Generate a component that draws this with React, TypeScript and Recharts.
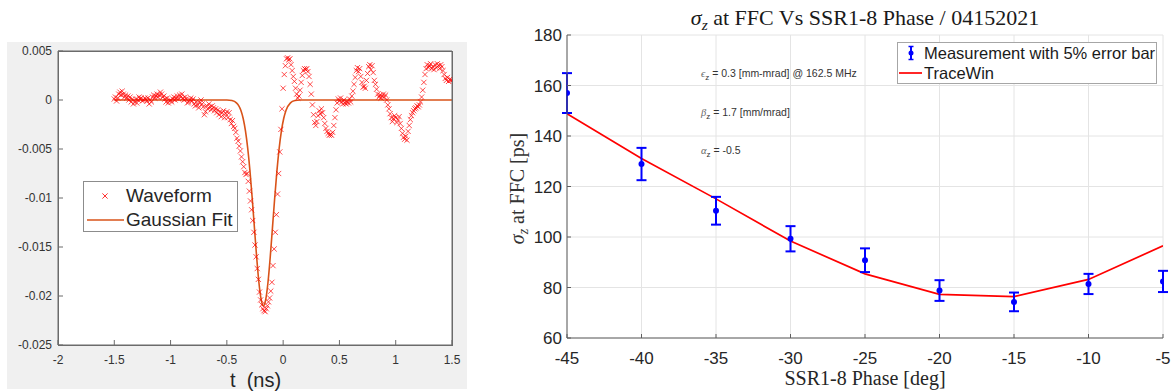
import React from 'react';
import { ComposedChart, Line, Scatter, XAxis, YAxis, CartesianGrid, ErrorBar } from 'recharts';

const sans = '"Liberation Sans", Arial, Helvetica, sans-serif';
const serif = '"Liberation Serif", "Times New Roman", serif';

// ---- left panel: scope waveform, mV, one sample every 10 ps from -1.5 ns
const waveStartNs = -1.5;
const waveStepNs = 0.01;
const waveformMv = [
  0.1, 0.3, -0.1, 0.2, 0.6, 0.8, 0.5, 0.9, 0.6, 0.3,
  0.5, 0.2, 0.4, 0.0, 0.3, -0.2, 0.1, -0.4, -0.2, 0.1,
  -0.3, 0.0, 0.3, 0.1, 0.2, -0.1, 0.0, 0.2, 0.1, -0.1,
  0.2, -0.4, 0.0, -0.2, 0.3, 0.5, 0.2, 0.4, 0.6, 0.3,
  0.5, 0.8, 0.6, 0.3, 0.4, 0.1, -0.2, 0.2, -0.3, -0.1,
  0.0, -0.2, 0.1, 0.3, 0.0, 0.2, 0.4, 0.1, 0.5, 0.3,
  0.6, 0.2, 0.0, 0.3, 0.1, -0.3, -0.2, 0.0, 0.2, -0.1,
  0.1, -0.4, -0.6, -0.2, -0.5, -0.8, -0.3, 0.0, -0.4, -0.7,
  -1.5, -1.2, -0.6, -0.9, -0.4, -0.7, -1.0, -0.6, -0.8, -1.1,
  -0.9, -1.3, -1.0, -1.5, -1.2, -1.7, -1.3, -1.1, -1.8, -1.4,
  -1.2, -1.8, -1.3, -2.0, -2.4, -2.1, -2.7, -2.9, -3.3, -3.9,
  -4.2, -4.7, -5.2, -5.8, -6.3, -6.8, -7.4, -7.6, -7.5, -8.3,
  -9.3, -10.3, -11.2, -12.3, -13.5, -14.8, -16.0, -17.2, -18.3, -19.6,
  -20.4, -20.9, -21.3, -21.5, -21.6, -21.3, -21.0, -20.6, -20.2, -19.5,
  -18.6, -16.9, -15.2, -13.5, -11.7, -9.6, -7.5, -5.3, -3.0, -0.9,
  1.2, 2.6, 3.5, 4.2, 4.3, 4.1, 4.2, 3.6, 3.0, 2.4,
  1.9, 1.2, 0.6, 0.2, 0.4, 1.0, 1.8, 2.5, 3.0, 3.2,
  3.1, 3.2, 2.9, 2.4, 1.6, 0.6, -0.5, -1.5, -2.3, -2.6,
  -2.2, -1.6, -1.1, -1.4, -0.9, -1.3, -1.8, -2.4, -2.9, -3.2,
  -3.4, -3.6, -3.5, -3.6, -3.3, -2.6, -1.8, -1.0, -0.3, 0.1,
  -0.1, 0.2, -0.2, -0.4, 0.0, -0.3, -0.4, -0.2, -0.3, 0.1,
  -0.2, 0.4, 0.9, 1.6, 2.3, 3.0, 3.3, 2.9, 3.2, 2.4,
  1.8, 1.3, 1.4, 1.2, 2.0, 2.7, 3.4, 3.6, 3.1, 3.5,
  2.8, 2.0, 1.6, 1.1, 0.6, 0.3, 0.5, 0.2, 0.4, 0.6,
  0.3, 0.5, 0.0, -0.5, -0.9, -1.4, -1.8, -2.2, -1.9, -1.6,
  -1.8, -2.3, -2.0, -1.7, -2.4, -2.9, -3.4, -3.8, -4.0, -3.7,
  -4.1, -3.2, -2.6, -2.0, -1.6, -1.3, -1.1, -0.9, -0.8, -0.6,
  -0.7, -0.5, -0.2, 0.3, 1.0, 1.8, 2.6, 3.2, 3.6, 3.3,
  3.5, 3.7, 3.2, 3.4, 3.1, 3.6, 3.3, 3.7, 3.5, 3.2,
  3.6, 3.4, 3.0, 2.6, 2.2, 2.0, 2.3, 1.9, 2.1, 2.0,
  2.0,
];

// gaussian fit curve
const fitTimeNs = [
  -1.5, -0.8, -0.5, -0.455, -0.415, -0.395, -0.375, -0.355, -0.335, -0.315, -0.295,
  -0.275, -0.255, -0.235, -0.215, -0.195, -0.175, -0.155, -0.135, -0.115, -0.095,
  -0.075, -0.055, -0.035, -0.015, 0.005, 0.025, 0.065, 0.105, 0.15, 0.3, 1.5,
];
const fitMv = [
  0, 0, 0, -0.06, -0.29, -0.57, -1.07, -1.89, -3.13, -4.9, -7.2,
  -10.0, -13.05, -16.07, -18.65, -20.38, -21.0, -20.38, -18.65, -16.07, -13.05,
  -10.0, -7.2, -4.9, -3.13, -1.89, -1.07, -0.29, -0.06, 0, 0, 0,
];

const waveTicksX = [-2, -1.5, -1, -0.5, 0, 0.5, 1, 1.5];
const waveTicksY = [-0.025, -0.02, -0.015, -0.01, -0.005, 0, 0.005];

// ---- right panel: bunch length vs SSR1-8 phase
const phaseDeg = [-45, -40, -35, -30, -25, -20, -15, -10, -5];
const measuredPs = [157, 128.9, 110.4, 99.3, 90.8, 78.8, 74.3, 81.4, 82.4];
const errorPs = [7.9, 6.4, 5.5, 5.0, 4.7, 4.1, 3.7, 4.0, 4.2];
const traceWinPs = [148.8, 131.1, 115.1, 98.4, 85.4, 77.3, 76.4, 83.2, 96.5];
const sigmaTicks = [60, 80, 100, 120, 140, 160, 180];

const waveData = waveformMv.map((mv, i) => ({ t: waveStartNs + i * waveStepNs, v: mv / 1000 }));
const fitData = fitTimeNs.map((t, i) => ({ t, v: fitMv[i] / 1000 }));
const measureData = phaseDeg.map((x, i) => ({ x, y: measuredPs[i], err: errorPs[i] }));
const traceData = phaseDeg.map((x, i) => ({ x, y: traceWinPs[i] }));

function CrossMark(props: any) {
  const { cx, cy } = props;
  if (cx == null || cy == null) return null;
  const s = 2.6;
  return (
    <path
      d={`M${cx - s},${cy - s}L${cx + s},${cy + s}M${cx - s},${cy + s}L${cx + s},${cy - s}`}
      stroke="#ff0000"
      strokeOpacity={0.7}
      strokeWidth={1}
      fill="none"
    />
  );
}

function BlueDot(props: any) {
  const { cx, cy } = props;
  if (cx == null || cy == null) return null;
  return <circle cx={cx} cy={cy} r={3} fill="#0000ff" />;
}

// tick label that draws nothing, so only the inward tick line shows
const NoLabel = () => <g />;

const SigmaZ = () => (
  <>
    <i>σ</i>
    <span style={{ fontSize: '0.7em', fontStyle: 'italic', position: 'relative', top: '0.3em' }}>z</span>
  </>
);

const abs = (left: number, top: number, extra: React.CSSProperties = {}): React.CSSProperties => ({
  position: 'absolute',
  left,
  top,
  whiteSpace: 'nowrap',
  ...extra,
});

export default function App() {
  const axisDark = '#262626';
  const boxGray = '#6b6b6b';
  const waveTick = { fill: '#333', fontSize: 12, fontFamily: sans };
  const phaseTick = { fill: axisDark, fontSize: 17, fontFamily: sans };

  return (
    <div style={{ position: 'absolute', left: 0, top: 0, width: 1173, height: 392, background: '#fff', fontFamily: sans, overflow: 'hidden' }}>
      {/* matlab figure background */}
      <div style={abs(7, 42, { width: 460, height: 347, background: '#f0f0f0' })} />

      <div style={abs(0, 0)}>
        <ComposedChart width={470} height={392} margin={{ top: 50, right: 17, bottom: 0, left: 0 }}>
          <CartesianGrid horizontal={false} vertical={false} fill="#ffffff" />
          <XAxis
            dataKey="t"
            type="number"
            domain={[-2, 1.5]}
            ticks={waveTicksX}
            interval={0}
            allowDataOverflow
            height={47}
            tickSize={-5}
            tickMargin={15}
            stroke={boxGray}
            tick={waveTick}
          />
          <XAxis
            xAxisId="top"
            orientation="top"
            type="number"
            domain={[-2, 1.5]}
            ticks={waveTicksX}
            interval={0}
            height={1}
            tick={<NoLabel />}
            tickSize={-5}
            stroke={boxGray}
          />
          <YAxis
            dataKey="v"
            type="number"
            domain={[-0.025, 0.005]}
            ticks={waveTicksY}
            interval={0}
            allowDataOverflow
            width={58}
            tickSize={-5}
            tickMargin={11}
            stroke={boxGray}
            tick={waveTick}
            tickFormatter={(v: number) => String(v)}
          />
          <YAxis
            yAxisId="r"
            orientation="right"
            type="number"
            domain={[-0.025, 0.005]}
            ticks={waveTicksY}
            interval={0}
            width={1}
            tick={<NoLabel />}
            tickSize={-5}
            stroke={boxGray}
          />
          <Scatter data={waveData} shape={<CrossMark />} isAnimationActive={false} />
          <Line data={fitData} dataKey="v" type="monotone" stroke="#d95319" strokeWidth={1.6} dot={false} isAnimationActive={false} />
        </ComposedChart>
      </div>
      {/* axes box outline */}
      <div style={abs(58, 51, { width: 395, height: 295, boxSizing: 'border-box', border: `1px solid ${boxGray}`, pointerEvents: 'none' })} />

      <div style={abs(230, 368, { fontSize: 20, lineHeight: '24px', color: axisDark, width: 50, textAlign: 'center', whiteSpace: 'pre' })}>t  (ns)</div>

      {/* left legend */}
      <div style={abs(83, 181, { width: 155, height: 51, boxSizing: 'border-box', border: '1px solid #8c8c8c', background: '#fff' })} />
      <svg style={abs(100, 191)} width={10} height={10}>
        <path d="M2.4,2.4L7.6,7.6M2.4,7.6L7.6,2.4" stroke="#ff0000" strokeOpacity={0.8} strokeWidth={1} />
      </svg>
      <div style={abs(126, 185, { fontSize: 19, lineHeight: '22px', color: axisDark })}>Waveform</div>
      <svg style={abs(87, 215)} width={38} height={10}>
        <line x1={0} y1={5} x2={37} y2={5} stroke="#d95319" strokeWidth={1.6} />
      </svg>
      <div style={abs(126, 209, { fontSize: 19, lineHeight: '22px', color: axisDark })}>Gaussian Fit</div>

      {/* right panel */}
      <div style={abs(490, 0)}>
        <ComposedChart width={683} height={392} margin={{ top: 35, right: 10, bottom: 0, left: 0 }}>
          <CartesianGrid stroke="#e4e4e4" />
          <XAxis
            dataKey="x"
            type="number"
            domain={[-45, -5]}
            ticks={phaseDeg}
            interval={0}
            allowDataOverflow
            height={54}
            tickSize={-4}
            tickMargin={18}
            stroke="#5e5e5e"
            tick={phaseTick}
          />
          <YAxis
            dataKey="y"
            type="number"
            domain={[60, 180]}
            ticks={sigmaTicks}
            interval={0}
            allowDataOverflow
            width={77}
            tickSize={-4}
            tickMargin={9}
            stroke="#5e5e5e"
            tick={phaseTick}
          />
          <Line data={traceData} dataKey="y" type="linear" stroke="#ff0000" strokeWidth={1.7} dot={false} isAnimationActive={false} />
          <Scatter data={measureData} shape={<BlueDot />} isAnimationActive={false}>
            <ErrorBar dataKey="err" direction="y" width={5} stroke="#0000ff" strokeWidth={2} />
          </Scatter>
        </ComposedChart>
      </div>

      <div style={abs(565, 6, { width: 600, textAlign: 'center', fontFamily: serif, fontSize: 22, lineHeight: '24px', color: '#1a1a1a' })}>
        <SigmaZ /> at FFC Vs SSR1-8 Phase / 04152021
      </div>
      <div style={abs(665, 366, { width: 400, textAlign: 'center', fontFamily: serif, fontSize: 20, lineHeight: '24px', color: '#262626' })}>
        SSR1-8 Phase [deg]
      </div>
      <div
        style={abs(518 - 100, 187 - 12, {
          width: 200,
          textAlign: 'center',
          fontFamily: serif,
          fontSize: 20,
          lineHeight: '24px',
          color: '#333',
          transform: 'rotate(-90deg)',
        })}
      >
        <SigmaZ /> at FFC [ps]
      </div>

      {/* beam parameters */}
      <div style={abs(701, 66, { fontSize: 10.5, lineHeight: '14px', color: '#333' })}>
        <span style={{ fontFamily: serif, fontStyle: 'italic', color: '#666' }}>ϵ</span>
        <span style={{ fontSize: 8, position: 'relative', top: 3 }}>z</span> = 0.3 [mm-mrad] @ 162.5 MHz
      </div>
      <div style={abs(701, 105, { fontSize: 10.5, lineHeight: '14px', color: '#333' })}>
        <span style={{ fontFamily: serif, fontStyle: 'italic', color: '#666' }}>β</span>
        <span style={{ fontSize: 8, position: 'relative', top: 3 }}>z</span> = 1.7 [mm/mrad]
      </div>
      <div style={abs(701, 143, { fontSize: 10.5, lineHeight: '14px', color: '#333' })}>
        <span style={{ fontFamily: serif, fontStyle: 'italic', color: '#666' }}>α</span>
        <span style={{ fontSize: 8, position: 'relative', top: 3 }}>z</span> = -0.5
      </div>

      {/* right legend */}
      <div style={abs(897, 42, { width: 260, height: 42, boxSizing: 'border-box', border: '1px solid #a6a6a6', background: '#fff' })} />
      <svg style={abs(906, 45)} width={10} height={16}>
        <line x1={5} y1={1.5} x2={5} y2={14.5} stroke="#0000ff" strokeWidth={2} />
        <line x1={2.5} y1={1.5} x2={7.5} y2={1.5} stroke="#0000ff" strokeWidth={1.5} />
        <line x1={2.5} y1={14.5} x2={7.5} y2={14.5} stroke="#0000ff" strokeWidth={1.5} />
        <circle cx={5} cy={8} r={2.5} fill="#0000ff" />
      </svg>
      <div style={abs(924, 43, { fontSize: 16.5, lineHeight: '20px', color: '#1a1a1a' })}>Measurement with 5% error bar</div>
      <svg style={abs(899, 68)} width={24} height={10}>
        <line x1={0} y1={5} x2={23} y2={5} stroke="#ff0000" strokeWidth={1.7} />
      </svg>
      <div style={abs(924, 63, { fontSize: 16.5, lineHeight: '20px', color: '#1a1a1a' })}>TraceWin</div>
    </div>
  );
}
